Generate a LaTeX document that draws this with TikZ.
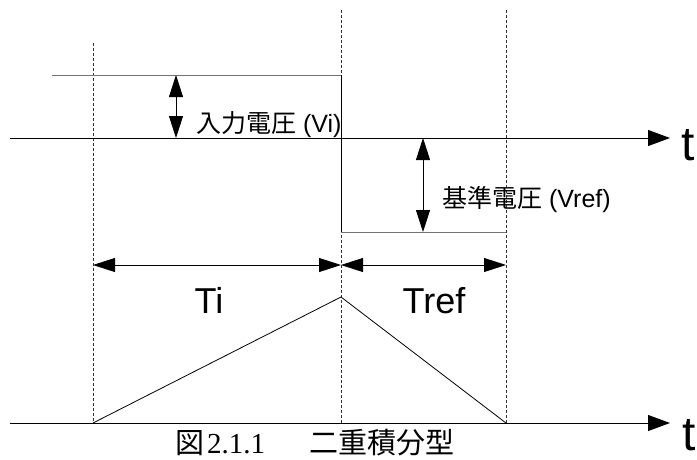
\documentclass[tikz,border=0pt]{standalone}
\usepackage{fontspec}
\setmainfont{Liberation Sans}
\newfontfamily\cjk{Noto Sans CJK JP}
\newfontfamily\capfont{Liberation Serif}
\usetikzlibrary{arrows.meta}

\tikzset{
  sigline/.style={draw=black!55,line width=1pt},
  guide/.style={draw=black!80,line width=0.8pt,dash pattern=on 3pt off 2pt},
  dimarrow/.style={line width=0.8pt,{Triangle[length=22pt,width=14pt]}-{Triangle[length=22pt,width=14pt]}},
  axis/.style={line width=1pt,-{Triangle[length=22pt,width=16pt]}},
  lbl/.style={inner sep=0pt,anchor=base west}
}

\begin{document}
\begin{tikzpicture}[x=1pt,y=-1pt]

  \useasboundingbox (0,0) rectangle (697,459);

  \coordinate (A0) at (10,138);
  \coordinate (A1) at (670,138);
  \coordinate (B0) at (10,423);
  \coordinate (B1) at (670,423);
  \coordinate (S0) at (52,75);
  \coordinate (S1) at (341,75);
  \coordinate (S2) at (341,232);
  \coordinate (S3) at (506,232);
  \coordinate (T0) at (93,423);
  \coordinate (T1) at (341,297);
  \coordinate (T2) at (506,423);

  % Draw guides
  \draw [guide] (93,43) -- (T0);
  \draw [guide] (341,10) -- (341,423);
  \draw [guide] (506,10) -- (T2);

  % Draw axes
  \draw [axis] (A0) -- (A1);
  \draw [axis] (B0) -- (B1);
  \node [lbl,font=\fontsize{48}{48}\selectfont] (t1) at (681,160) {t};
  \node [lbl,font=\fontsize{48}{48}\selectfont] (t2) at (682,450) {t};

  % Draw input and reference voltage
  \draw [sigline] (S0) -- (S1);
  \draw [line width=0.8pt] (S1) -- (S2);
  \draw [sigline] (S2) -- (S3);

  \draw [dimarrow] (176,75) -- (176,138);
  \node [lbl,font=\fontsize{25}{25}\selectfont] (vi) at (196,132) {{\cjk 入力電圧} (Vi)};
  \draw [dimarrow] (423,138) -- (423,232);
  \node [lbl,font=\fontsize{25}{25}\selectfont] (vref) at (442,207) {{\cjk 基準電圧} (Vref)};

  % Draw integration
  \draw [line width=0.8pt] (T0) -- (T1) -- (T2);
  \draw [dimarrow] (93,265) -- (341,265);
  \draw [dimarrow] (341,265) -- (506,265);
  \node [inner sep=0pt,anchor=base,font=\fontsize{36}{36}\selectfont] (ti) at (209,313) {Ti};
  \node [inner sep=0pt,anchor=base,font=\fontsize{36}{36}\selectfont] (tref) at (434,313) {Tref};

  % Caption
  \node [lbl,font=\capfont\fontsize{29}{29}\selectfont] (cap) at (175,453)
    {{\cjk 図}\hspace{3pt}2.1.1\hspace{44pt}{\cjk 二重積分型}};

\end{tikzpicture}
\end{document}
